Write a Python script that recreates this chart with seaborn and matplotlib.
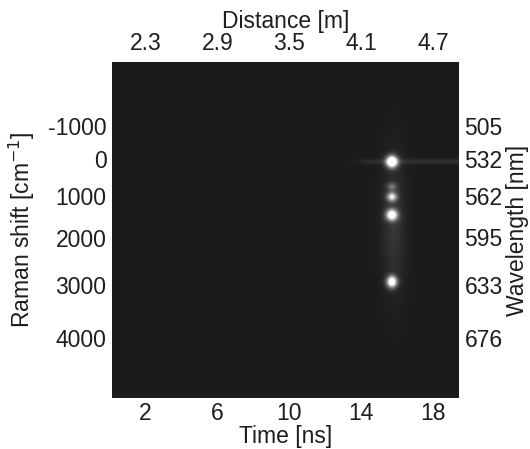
import numpy as np
import pandas as pd
import matplotlib
matplotlib.use("Agg")
import matplotlib.pyplot as plt
from matplotlib.colors import LinearSegmentedColormap
import seaborn as sns

sns.set_style("white")
plt.rcParams['font.family'] = ['Liberation Sans', 'DejaVu Sans']

# Detector window
time_range = [0.17, 19.4]        # ns
wavelength_range = [454, 724]    # nm
laser_nm = 532.0

# Bright Raman spots: time [ns], wavelength [nm], intensity, width in t, width in nm
spot_time = [15.7, 15.7, 15.7, 15.7, 15.7]
spot_wavelength = [533.8, 554.0, 562.6, 577.0, 631.0]
spot_intensity = [1.6, 0.35, 0.9, 1.3, 1.3]
spot_width_t = [0.22, 0.2, 0.2, 0.22, 0.2]
spot_width_nm = [3.2, 2.5, 2.5, 3.0, 3.2]

# Faint haze around the spots and the laser-line streak
haze_time, haze_wavelength, haze_intensity = 15.8, 585.0, 0.12
haze_width_t, haze_width_nm = 0.45, 36.0
streak_start, streak_wavelength, streak_intensity = 14.0, 533.6, 0.09

# Axis tick values
time_ticks = [2, 6, 10, 14, 18]
distance_ticks = [2.3, 2.9, 3.5, 4.1, 4.7]
raman_ticks = [-1000, 0, 1000, 2000, 3000, 4000]
wavelength_ticks = [505, 532, 562, 595, 633, 676]

# Build the streak-camera image
t = np.linspace(time_range[0], time_range[1], 360)
lam = np.linspace(wavelength_range[0], wavelength_range[1], 340)
T, L = np.meshgrid(t, lam)
img = np.zeros_like(T)
for t0, l0, a, st, sl in zip(spot_time, spot_wavelength, spot_intensity,
                             spot_width_t, spot_width_nm):
    img += a * np.exp(-0.5 * ((T - t0) / st) ** 2 - 0.5 * ((L - l0) / sl) ** 2)
img += haze_intensity * np.exp(-0.5 * ((T - haze_time) / haze_width_t) ** 2
                               - 0.5 * ((L - haze_wavelength) / haze_width_nm) ** 2)
img += streak_intensity * np.exp(-0.5 * ((L - streak_wavelength) / 1.5) ** 2) \
    / (1 + np.exp(-(T - streak_start) / 0.3))

df = pd.DataFrame(img, index=np.round(lam, 1), columns=np.round(t, 2))

cmap = LinearSegmentedColormap.from_list("dark", ["#1b1b1b", "#ffffff"])
rect = [0.2113, 0.1136, 0.6547, 0.7484]

fig = plt.figure(figsize=(5.3, 4.49), dpi=100)
ax = fig.add_axes(rect)
sns.heatmap(df, ax=ax, cmap=cmap, vmin=0, vmax=1, cbar=False,
            xticklabels=False, yticklabels=False)
ax.set_xlabel('')
ax.set_ylabel('')
for s in ax.spines.values():
    s.set_visible(False)

# Overlay axes carrying the physical scales
dt = t[1] - t[0]
dl = lam[1] - lam[0]
ax2 = fig.add_axes(rect)
ax2.set_facecolor('none')
ax2.set_xlim(t[0] - dt / 2, t[-1] + dt / 2)
ax2.set_ylim(lam[-1] + dl / 2, lam[0] - dl / 2)
for s in ax2.spines.values():
    s.set_visible(False)

txt = '#1e1e1e'
fs = 16.5
ax2.set_xticks(time_ticks)
ax2.set_xticklabels([str(v) for v in time_ticks])
ax2.set_xlabel('Time [ns]', fontsize=fs, color=txt, labelpad=0)
ax2.yaxis.tick_right()
ax2.yaxis.set_label_position('right')
ax2.set_yticks(wavelength_ticks)
ax2.set_yticklabels([str(v) for v in wavelength_ticks])
ax2.set_ylabel('Wavelength [nm]', fontsize=fs, color=txt, labelpad=2)
ax2.tick_params(axis='y', length=0, labelsize=fs, colors=txt, pad=4)
ax2.tick_params(axis='x', length=0, labelsize=fs, colors=txt, pad=3)

top = ax2.secondary_xaxis('top', functions=(lambda x: 2.0 + 0.15 * x,
                                            lambda d: (d - 2.0) / 0.15))
top.set_xticks(distance_ticks)
top.set_xticklabels([str(v) for v in distance_ticks])
top.set_xlabel('Distance [m]', fontsize=fs, color=txt, labelpad=3)
top.tick_params(length=0, labelsize=fs, colors=txt, pad=5)

def to_shift(w):
    w = np.asarray(w, dtype=float)
    return 1e7 / laser_nm - 1e7 / np.where(w == 0, 1e-9, w)

def to_wavelength(s):
    s = np.asarray(s, dtype=float)
    return 1e7 / (1e7 / laser_nm - s)

left = ax2.secondary_yaxis('left', functions=(to_shift, to_wavelength))
left.set_yticks(raman_ticks)
left.set_yticklabels([str(v) for v in raman_ticks])
left.set_ylabel('Raman shift [cm$^{-1}$]', fontsize=fs, color=txt, labelpad=8)
left.tick_params(length=0, labelsize=fs, colors=txt, pad=4)
for sec in (top, left):
    for s in sec.spines.values():
        s.set_visible(False)

fig.savefig('out.png', dpi=100)
